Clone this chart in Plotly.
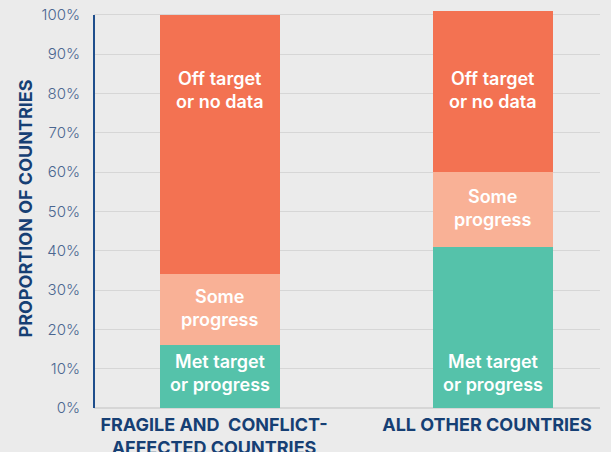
import plotly.graph_objects as go

# data (percent of countries)
groups = ["FRAGILE AND  CONFLICT-<br>AFFECTED COUNTRIES", "ALL OTHER COUNTRIES"]
met_target = [16, 41]
some_progress = [18, 19]
off_target = [66, 41]
yticks = [0, 10, 20, 30, 40, 50, 60, 70, 80, 90, 100]
ytick_text = ["0%", "10%", "20%", "30%", "40%", "50%", "60%", "70%", "80%", "90%", "100%"]

seg_labels = ["Met target<br>or progress", "Some<br>progress", "Off target<br>or no data"]
seg_colors = ["#55c2aa", "#f9b196", "#f37252"]

navy = "#163f74"
bg = "#ebebeb"

fig = go.Figure()
for vals, name, col in zip([met_target, some_progress, off_target], seg_labels, seg_colors):
    fig.add_trace(go.Bar(x=groups, y=vals, name=name, marker=dict(color=col, line=dict(width=0)),
                         width=0.44, hoverinfo="skip"))

# in-bar labels
lab_font = dict(family="Inter, Open Sans, sans-serif", size=18, color="white", weight=600)
for i, g in enumerate(groups):
    fig.add_annotation(x=g, y=9, text=seg_labels[0], showarrow=False, font=lab_font)
    fig.add_annotation(x=g, y=met_target[i] + some_progress[i] / 2 + 0.5, text=seg_labels[1],
                       showarrow=False, font=lab_font)
    fig.add_annotation(x=g, y=81, text=seg_labels[2], showarrow=False, font=lab_font)

# left axis line stops at 100%
fig.add_shape(type="line", xref="paper", x0=0, x1=0, yref="y", y0=0, y1=100,
              line=dict(color="#1f4e8c", width=2))

fig.update_layout(
    barmode="stack",
    width=611, height=452,
    margin=dict(l=94, r=11, t=9, b=44),
    paper_bgcolor=bg, plot_bgcolor=bg,
    showlegend=False,
    bargap=0,
    xaxis=dict(range=[-0.4615, 1.392], showgrid=False, showline=False, ticks="",
               automargin=False, ticklabelshift=-6, ticklabelstandoff=4,
               tickfont=dict(family="Inter, Arial, sans-serif", size=18, color=navy, weight="bold")),
    yaxis=dict(range=[0, 101.5], tickvals=yticks, ticktext=ytick_text, showgrid=True,
               gridcolor="#d6d6d6", gridwidth=1, zeroline=True, zerolinecolor="#d6d6d6",
               showline=False, ticks="", ticklabelstandoff=13, automargin=False,
               tickfont=dict(family="Inter, Open Sans, sans-serif", size=15, color="#4a6690",
                             weight=300),
               title=dict(text="PROPORTION OF COUNTRIES", standoff=4,
                          font=dict(family="Inter, Arial, sans-serif", size=18, color=navy,
                                    weight="bold"))),
)

fig.write_html("out.html", config={"displayModeBar": False},
               post_script="document.body.style.margin='0';")
